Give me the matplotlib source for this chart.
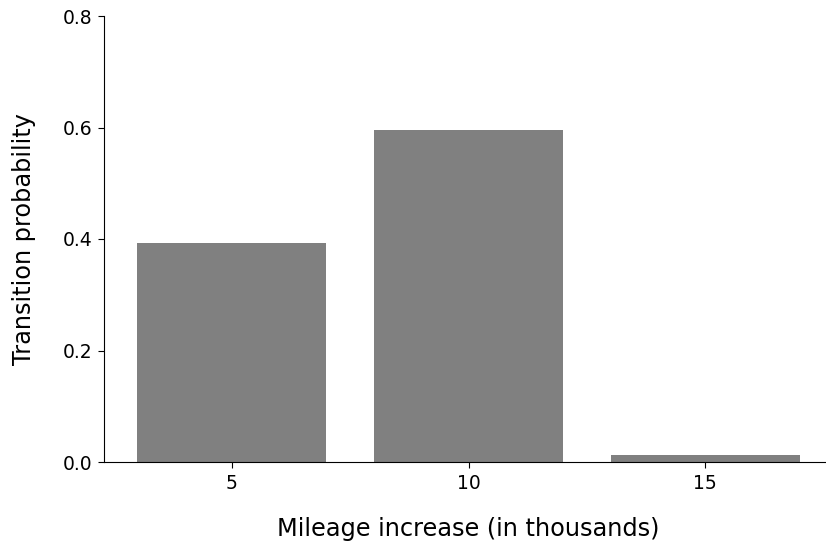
import matplotlib
matplotlib.use("Agg")
import matplotlib.pyplot as plt

# Transition probabilities for mileage increases
mileage = [5, 10, 15]
probs = [0.393, 0.5955, 0.0126]

fig = plt.figure(figsize=(8.26, 5.45), dpi=100)
ax = fig.add_axes([104 / 826, 83 / 545, 729 / 826, 446 / 545])

ax.bar(mileage, probs, width=4, color='grey')

ax.set_ylim(0, 0.8)
ax.set_yticks([0.0, 0.2, 0.4, 0.6, 0.8])
ax.set_xticks(mileage)
ax.tick_params(labelsize=13.5, length=4.5, pad=4)
ax.spines['top'].set_visible(False)
ax.spines['right'].set_visible(False)

ax.set_xlabel('Mileage increase (in thousands)', fontsize=17.3, labelpad=17.5)
ax.set_ylabel('Transition probability', fontsize=17.3, labelpad=19)

fig.savefig('out.png', dpi=100)
